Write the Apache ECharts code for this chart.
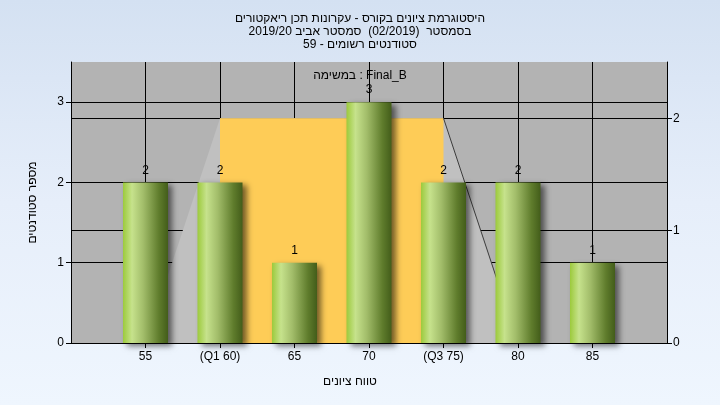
<!DOCTYPE html>
<html>
<head>
<meta charset="utf-8">
<script src="https://cdn.jsdelivr.net/npm/echarts@6/dist/echarts.min.js"></script>
<style>
html,body{margin:0;padding:0;width:720px;height:405px;overflow:hidden;
background:linear-gradient(to bottom,#d4e1f2 0%,#e6eefa 50%,#eff6fe 100%);}
#c{width:720px;height:405px;}
</style>
</head>
<body>
<div id="c"></div>
<script>
const categories = [55, 60, 65, 70, 75, 80, 85];
const tickLabels = ['55', '(Q1 60)', '65', '70', '(Q3 75)', '80', '85'];
const counts = [2, 2, 1, 3, 2, 2, 1];
const boxX = [55, 60, 75, 80];      // min, Q1, Q3, max
const boxHeight = 2;                 // on right axis
const leftGrid = [1, 2, 3];
const rightGrid = [1, 2];
const titleLines = [
  'היסטוגרמת ציונים בקורס - עקרונות תכן ריאקטורים',
  'בסמסטר  (02/2019)  סמסטר אביב 2019/20',
  'סטודנטים רשומים - 59'
];
const legendText = 'במשימה : Final_B';
const yName = 'מספר סטודנטים';
const xName = 'טווח ציונים';

const FONT = 'Liberation Sans, DejaVu Sans, sans-serif';
const chart = echarts.init(document.getElementById('c'), null, {renderer: 'canvas'});

const labelMap = {};
categories.forEach((c, i) => labelMap[c] = tickLabels[i]);

const barGradient = new echarts.graphic.LinearGradient(0, 0, 1, 0, [
  {offset: 0, color: '#9cca3c'},
  {offset: 0.2, color: '#c6e28c'},
  {offset: 0.45, color: '#a2bd6a'},
  {offset: 0.8, color: '#5f7c2c'},
  {offset: 1, color: '#435d1a'}
]);

chart.setOption({
  backgroundColor: 'transparent',
  animation: false,
  title: {
    text: titleLines.join('\n'),
    left: 'center', top: 7,
    textStyle: {fontFamily: FONT, fontSize: 12, fontWeight: 'normal', color: '#000', lineHeight: 13}
  },
  grid: {left: 71, right: 53, top: 62, bottom: 62, show: true, backgroundColor: '#b3b3b3', borderWidth: 0},
  xAxis: {
    type: 'value', min: 50, max: 90, interval: 5,
    axisLine: {show: true, lineStyle: {color: '#000', width: 1}},
    axisTick: {show: true, length: 5, lineStyle: {color: '#000'}, customValues: categories},
    axisLabel: {customValues: categories, formatter: v => labelMap[v] || '', color: '#000', fontFamily: FONT, fontSize: 12, margin: 8},
    splitLine: {show: true, lineStyle: {color: '#000', width: 1}}
  },
  yAxis: [{
    type: 'value', min: 0, max: 3.5, interval: 1,
    name: yName, nameLocation: 'middle', nameGap: 32,
    nameTextStyle: {fontFamily: FONT, fontSize: 12, color: '#000'},
    axisLine: {show: true, lineStyle: {color: '#000', width: 1}},
    axisTick: {show: true, length: 5, lineStyle: {color: '#000'}, customValues: [0, 1, 2, 3]},
    axisLabel: {customValues: [0, 1, 2, 3], color: '#000', fontFamily: FONT, fontSize: 12, margin: 7},
    splitLine: {show: false}
  }, {
    type: 'value', min: 0, max: 2.5, interval: 1, position: 'right',
    axisLine: {show: true, lineStyle: {color: '#000', width: 1}},
    axisTick: {show: true, length: 5, lineStyle: {color: '#000'}, customValues: [0, 1, 2]},
    axisLabel: {customValues: [0, 1, 2], color: '#000', fontFamily: FONT, fontSize: 12, margin: 6},
    splitLine: {show: false}
  }],
  graphic: [{
    type: 'text', left: 'center', top: 70,
    style: {text: legendText, font: '12px ' + FONT, fill: '#000'}
  }, {
    type: 'text', x: 350, y: 376,
    style: {text: xName, font: '12px ' + FONT, fill: '#000', align: 'center'}
  }],
  series: [{
    type: 'line', xAxisIndex: 0, yAxisIndex: 0, data: [], silent: true,
    markLine: {silent: true, symbol: 'none', z: 1, label: {show: false},
      lineStyle: {color: '#000', width: 1, type: 'solid'},
      data: leftGrid.map(v => ({yAxis: v}))}
  }, {
    type: 'line', xAxisIndex: 0, yAxisIndex: 1, data: [], silent: true,
    markLine: {silent: true, symbol: 'none', z: 1, label: {show: false},
      lineStyle: {color: '#000', width: 1, type: 'solid'},
      data: rightGrid.map(v => ({yAxis: v}))}
  }, {
    type: 'custom', xAxisIndex: 0, yAxisIndex: 1, z: 8, silent: true,
    data: [[boxX[0], 0]],
    renderItem: function (params, api) {
      const pMin = api.coord([boxX[0], 0]);
      const pQ1 = api.coord([boxX[1], boxHeight]);
      const pQ3 = api.coord([boxX[2], boxHeight]);
      const pMax = api.coord([boxX[3], 0]);
      const q1b = api.coord([boxX[1], 0]);
      return {
        type: 'group',
        children: [{
          type: 'polygon',
          shape: {points: [pMin, pQ1, pQ3, pMax]},
          style: {fill: '#c0c0c0'}
        }, {
          type: 'rect',
          shape: {x: pQ1[0], y: pQ1[1], width: pQ3[0] - pQ1[0], height: q1b[1] - pQ1[1]},
          style: {fill: '#fecc57'}
        }, {
          type: 'line',
          shape: {x1: pQ3[0], y1: pQ3[1], x2: pMax[0], y2: pMax[1]},
          style: {stroke: '#3c3c3c', lineWidth: 1}
        }]
      };
    }
  }, {
    type: 'bar', xAxisIndex: 0, yAxisIndex: 0, z: 10,
    barWidth: 45,
    data: categories.map((c, i) => [c, counts[i]]),
    itemStyle: {color: barGradient, shadowColor: 'rgba(0,0,0,0.55)', shadowBlur: 6, shadowOffsetX: 4, shadowOffsetY: 3},
    label: {show: true, position: 'top', distance: 6, color: '#000', fontFamily: FONT, fontSize: 12}
  }]
});
</script>
</body>
</html>
